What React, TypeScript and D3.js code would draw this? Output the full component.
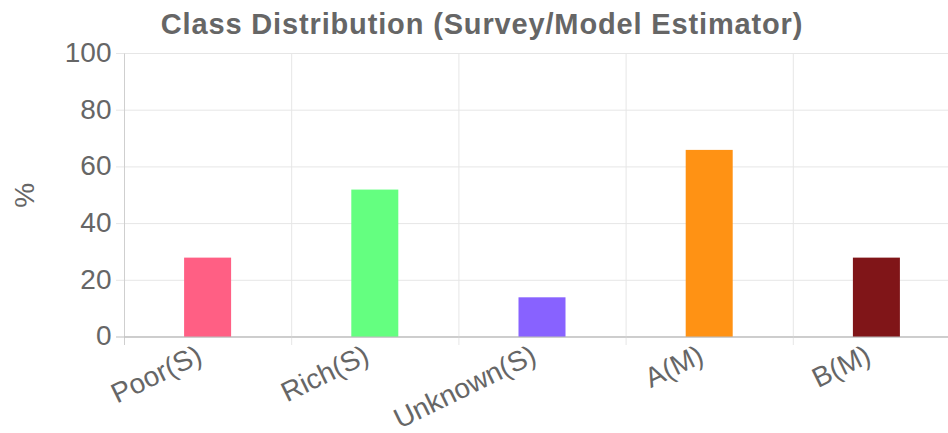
import React from "react";
import * as d3 from "d3";

const categories = ["Poor(S)", "Rich(S)", "Unknown(S)", "A(M)", "B(M)"];
const percentages = [28, 52, 14, 66, 28];
const barColors = ["#ff5f84", "#64ff80", "#8862ff", "#ff9214", "#801518"];
const yTicks = [0, 20, 40, 60, 80, 100];

const W = 948;
const H = 433;
const left = 124;
const right = 960;
const top = 53.5;
const bottom = 337;
const FONT = "'Liberation Sans', Arial, Helvetica, sans-serif";
const TEXT = "#666666";

export default function App() {
  const x = d3.scaleBand<string>().domain(categories).range([left, right]);
  const y = d3.scaleLinear().domain([0, 100]).range([bottom, top]);
  const barW = 47;

  return (
    <svg
      width={W}
      height={H}
      style={{ position: "absolute", left: 0, top: 0, background: "#fff" }}
      fontFamily={FONT}
    >
      <text
        x={482}
        y={34}
        textAnchor="middle"
        fontSize={29}
        fontWeight="bold"
        letterSpacing={0.85}
        fill={TEXT}
      >
        Class Distribution (Survey/Model Estimator)
      </text>

      {/* horizontal grid and y ticks */}
      {yTicks.map((t) => (
        <g key={t}>
          <line
            x1={left - 8}
            x2={right}
            y1={y(t)}
            y2={y(t)}
            stroke={t === 0 ? "#bdbdbd" : "#e6e6e6"}
            strokeWidth={1}
          />
          <text
            x={111.5}
            y={y(t)}
            dy="0.3em"
            textAnchor="end"
            fontSize={28}
            fill={TEXT}
          >
            {t}
          </text>
        </g>
      ))}

      {/* vertical grid at category boundaries */}
      {categories.map((c, i) => {
        const gx = (x(c) as number) + 0.5;
        return (
          <line
            key={c}
            x1={gx}
            x2={gx}
            y1={top}
            y2={bottom + 8}
            stroke={i === 0 ? "#cfcfcf" : "#e6e6e6"}
            strokeWidth={1}
          />
        );
      })}

      {/* bars */}
      {categories.map((c, i) => {
        const cx = (x(c) as number) + x.bandwidth() / 2;
        return (
          <rect
            key={c}
            x={cx - barW / 2}
            y={y(percentages[i])}
            width={barW}
            height={bottom - y(percentages[i])}
            fill={barColors[i]}
          />
        );
      })}

      {/* x axis line on top of bars */}
      <line x1={left} x2={right} y1={bottom} y2={bottom} stroke="#bdbdbd" strokeWidth={1} />

      {/* category labels */}
      {categories.map((c) => {
        const cx = (x(c) as number) + x.bandwidth() / 2;
        return (
          <text
            key={c}
            transform={`translate(${cx - 8},${bottom + 16}) rotate(-26)`}
            textAnchor="end"
            dominantBaseline="central"
            fontSize={28}
            fill={TEXT}
          >
            {c}
          </text>
        );
      })}

      <text
        transform={`translate(24,${(top + bottom) / 2}) rotate(-90)`}
        textAnchor="middle"
        dominantBaseline="central"
        fontSize={28}
        fill={TEXT}
      >
        %
      </text>
    </svg>
  );
}
